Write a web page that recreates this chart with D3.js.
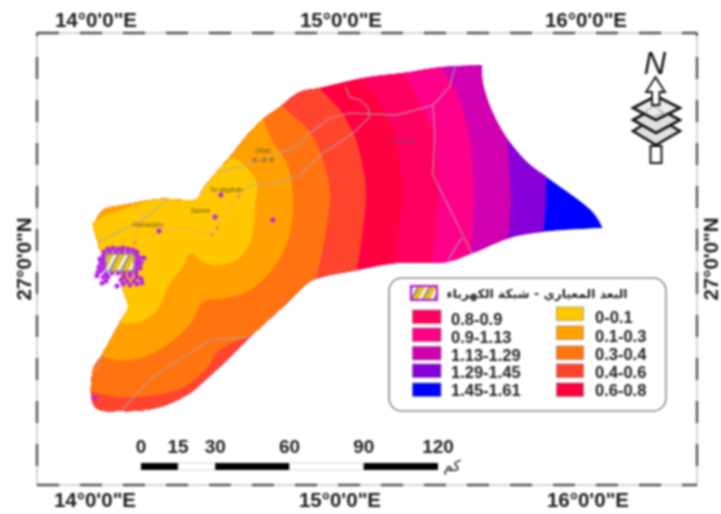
<!DOCTYPE html>
<html><head><meta charset="utf-8">
<script src="https://cdn.jsdelivr.net/npm/d3@7"></script>
<style>
html,body{margin:0;padding:0;background:#fff}
svg{display:block;filter:blur(0.8px)}
text{font-family:"Liberation Sans",Arial,sans-serif}
</style></head><body>
<svg id="map" width="721" height="514"></svg>
<script>
// ---------- data (lon, lat in decimal degrees) ----------
const outlineNorth=[[14.000,27.094],[14.033,27.143],[14.114,27.163],[14.265,27.188],[14.416,27.188],[14.437,27.224],[14.510,27.314],[14.563,27.375],[14.604,27.428],[14.681,27.510],[14.755,27.563],[14.836,27.624],[14.918,27.641],[15.093,27.681],[15.257,27.702],[15.408,27.726],[15.579,27.734]];
const outlineEast=[[15.579,27.734],[15.583,27.661],[15.624,27.539],[15.681,27.437],[15.763,27.339],[15.844,27.278],[16.032,27.135],[16.073,27.069]];
const outlineSouth=[[16.073,27.069],[15.828,27.053],[15.693,27.029],[15.542,26.967],[15.436,26.931],[15.232,26.927],[15.069,26.898],[14.889,26.857],[14.836,26.816],[14.783,26.763],[14.632,26.624],[14.539,26.531],[14.441,26.441],[14.388,26.396],[14.265,26.339],[14.114,26.322],[14.000,26.339],[13.992,26.490],[14.033,26.559],[14.102,26.686],[14.135,26.747],[14.114,26.816],[14.094,26.898],[14.020,26.980],[14.012,27.008],[13.992,27.090],[14.000,27.094]];

const classLabels=["0-0.1","0.1-0.3","0.3-0.4","0.4-0.6","0.6-0.8","0.8-0.9","0.9-1.13","1.13-1.29","1.29-1.45","1.45-1.61"];
const classColors=["#ffc800","#ffa000","#ff7410","#ff452d","#ff0040","#ff0060","#ff0088","#d000b0","#8800d8","#0000ff"];

// upper limit contour of each class (class index i = contours[i])
const contour0=[[14.490,27.347],[14.518,27.326],[14.563,27.355],[14.620,27.314],[14.661,27.253],[14.653,27.155],[14.641,27.033],[14.592,26.951],[14.510,26.918],[14.441,26.931],[14.388,26.967],[14.359,26.910],[14.306,26.845],[14.253,26.735],[14.184,26.686],[14.114,26.682],[14.020,26.694]];
const contour1=[[14.681,27.530],[14.722,27.428],[14.783,27.335],[14.808,27.196],[14.796,27.049],[14.743,26.927],[14.632,26.816],[14.539,26.784],[14.441,26.767],[14.400,26.694],[14.306,26.600],[14.184,26.539],[14.090,26.531],[13.959,26.572]];
const contour2=[[14.734,27.612],[14.775,27.559],[14.877,27.461],[14.930,27.347],[14.959,27.212],[14.938,27.033],[14.898,26.857],[14.836,26.735],[14.714,26.645],[14.624,26.625],[14.510,26.572],[14.441,26.478],[14.335,26.408],[14.212,26.384],[14.090,26.380],[13.959,26.408]];
const contour3=[[14.885,27.836],[14.894,27.694],[14.918,27.641],[15.000,27.551],[15.061,27.441],[15.093,27.318],[15.106,27.212],[15.093,27.061],[15.069,26.898],[15.049,26.816],[15.049,26.245]];
const contour4=[[15.061,27.836],[15.073,27.734],[15.093,27.677],[15.163,27.579],[15.216,27.469],[15.244,27.335],[15.253,27.212],[15.240,27.061],[15.224,26.918],[15.212,26.837],[15.212,26.245]];
const contour5=[[15.224,27.836],[15.236,27.755],[15.257,27.702],[15.326,27.583],[15.375,27.457],[15.395,27.335],[15.399,27.212],[15.395,27.073],[15.371,26.931],[15.359,26.857],[15.359,26.245]];
const contour6=[[15.375,27.836],[15.391,27.763],[15.412,27.726],[15.477,27.620],[15.522,27.469],[15.542,27.318],[15.546,27.184],[15.534,26.980],[15.522,26.898],[15.522,26.245]];
const contour7=[[15.673,27.836],[15.669,27.510],[15.681,27.437],[15.693,27.278],[15.697,27.155],[15.685,27.029],[15.673,26.939],[15.673,26.245]];
const contour8=[[15.856,27.836],[15.856,27.347],[15.844,27.278],[15.840,27.171],[15.832,27.053],[15.832,26.245]];
const contours=[contour0,contour1,contour2,contour3,contour4,contour5,contour6,contour7,contour8];
const westTip=[[13.959,27.053],[14.020,27.110],[14.082,27.135],[14.163,27.163],[14.224,27.192],[14.224,27.265],[13.959,27.265]];

const roads=[
 [[14.510,27.298],[14.645,27.335],[14.755,27.375],[14.836,27.408],[14.877,27.457],[14.959,27.518],[15.040,27.539],[15.232,27.530],[15.379,27.571],[15.448,27.645],[15.469,27.726]],
 [[14.604,27.224],[14.645,27.245],[14.755,27.257],[14.836,27.286],[14.930,27.375],[15.053,27.457],[15.122,27.522],[15.114,27.563],[15.081,27.592],[15.040,27.604],[15.020,27.649]],
 [[15.379,27.571],[15.387,27.457],[15.379,27.286],[15.538,26.967]],
 [[15.497,27.029],[15.440,26.939]],
 [[14.012,27.012],[14.196,27.102],[14.298,27.184]],
 [[14.110,26.327],[14.233,26.461],[14.469,26.612],[14.624,26.625]],
 [[14.033,26.559],[14.004,26.482]]
];
const tracks=[
 [[14.604,27.224],[14.580,27.196],[14.522,27.114],[14.481,27.041],[14.375,27.069],[14.265,27.061],[14.204,26.992]],
 [[14.151,27.167],[14.196,27.131],[14.163,27.020]]
];
const networkSites=[[14.053,26.984],[14.073,26.988],[14.094,26.984],[14.114,26.988],[14.135,26.984],[14.155,26.980],[14.171,26.971],[14.037,26.971],[14.061,26.971],[14.086,26.971],[14.110,26.971],[14.135,26.971],[14.159,26.971],[14.033,26.955],[14.020,26.943],[14.033,26.939],[14.024,26.927],[14.037,26.922],[14.016,26.910],[14.033,26.906],[14.024,26.894],[14.012,26.890],[14.171,26.955],[14.184,26.947],[14.200,26.947],[14.171,26.935],[14.188,26.927],[14.171,26.918],[14.184,26.906],[14.167,26.898],[14.045,26.882],[14.069,26.886],[14.094,26.886],[14.118,26.886],[14.143,26.886],[14.167,26.886],[14.033,26.869],[14.008,26.874],[14.053,26.869],[14.118,26.869],[14.143,26.874],[14.171,26.869],[14.106,26.857],[14.131,26.853],[14.159,26.853],[14.188,26.861],[14.045,26.853],[14.029,26.845],[14.114,26.841],[14.143,26.837],[14.171,26.841],[14.192,26.845],[14.090,26.833],[14.514,27.204],[14.490,27.114],[14.726,27.102],[14.261,27.057],[14.000,26.376]];
const minorSites=[[14.273,27.082],[14.588,27.200],[14.498,27.069],[14.477,27.041],[14.163,27.012]];
const sampledArea=[[14.045,26.963],[14.159,26.894]];

const towns=["Ubari","al -at at","Tw alqahah","Samra","Hamadah","SABHA"];
const townPlaces=[[14.686,27.377],[14.686,27.340],[14.535,27.216],[14.430,27.130],[14.212,27.072],[15.253,27.416]];

const lonTicks=[14,15,16];
const latTicks=[27];
const lonLabels=['14°0\'0"E','15°0\'0"E','16°0\'0"E'];
const latLabels=['27°0\'0"N'];
const scaleKm=[0,15,30,60,90,120];
const legendTitle="البعد المعياري - شبكة الكهرباء";

// ---------- scales ----------
const svg=d3.select("#map");
const x=d3.scaleLinear().domain([14,16]).range([95,585]);
const y=d3.scaleLinear().domain([27,28]).range([245,0]);
const km=d3.scaleLinear().domain([0,120]).range([141,438]);
const P=d=>[x(d[0]),y(d[1])];
const smooth=d3.line().x(d=>x(d[0])).y(d=>y(d[1])).curve(d3.curveCatmullRom.alpha(0.5));
const straight=d3.line().x(d=>x(d[0])).y(d=>y(d[1]));
// the outline keeps its sharp corners where the three arcs meet
const outlinePath=smooth(outlineNorth)+smooth(outlineEast).replace(/^M/,"L")+smooth(outlineSouth).replace(/^M/,"L")+"Z";

// ---------- defs ----------
const defs=svg.append("defs");
defs.append("clipPath").attr("id","region").append("path").attr("d",outlinePath);
const pat=defs.append("pattern").attr("id","hatch").attr("patternUnits","userSpaceOnUse").attr("width",10).attr("height",10).attr("patternTransform","rotate(28)");
pat.append("rect").attr("width",10).attr("height",10).attr("fill","#e6c21a");
pat.append("rect").attr("x",0).attr("width",3).attr("height",10).attr("fill","#f4f4f0");
pat.append("rect").attr("x",3).attr("width",2).attr("height",10).attr("fill","#8a8a80");

// ---------- frame ----------
const fL=37,fT=33,fR=697,fB=485;
svg.append("rect").attr("x",fL).attr("y",fT).attr("width",fR-fL).attr("height",fB-fT).attr("fill","none").attr("stroke","#d4d4d4").attr("stroke-width",2);
[[fL,fT,fR,fT,0],[fL,fB,fR,fB,0],[fL,fT,fL,fB,19],[fR,fT,fR,fB,19]].forEach(l=>{
 svg.append("line").attr("x1",l[0]).attr("y1",l[1]).attr("x2",l[2]).attr("y2",l[3]).attr("stroke","#555").attr("stroke-width",2.4).attr("stroke-dasharray","22 21").attr("stroke-dashoffset",l[4]);
});

// ---------- zones ----------
const zones=svg.append("g").attr("clip-path","url(#region)");
zones.append("path").attr("d",outlinePath).attr("fill",classColors[9]);
const west=13.8;
for(let i=contours.length-1;i>=0;i--){
 const c=contours[i];
 const tail="L"+P([west,c[c.length-1][1]]).join(",")+"L"+P([west,c[0][1]]).join(",")+"Z";
 zones.append("path").attr("d",smooth(c)+tail).attr("fill",classColors[i]);
}
zones.append("path").attr("d",smooth(westTip)+"Z").attr("fill",classColors[1]);

// ---------- roads ----------
const rg=svg.append("g").attr("fill","none").attr("stroke-linejoin","round");
rg.selectAll(".road").data(roads).join("path").attr("d",straight).attr("stroke","#b3a4ac").attr("stroke-width",1.1).attr("opacity",0.9);
rg.selectAll(".track").data(tracks).join("path").attr("d",straight).attr("stroke","#ffa26a").attr("stroke-width",0.9);

// ---------- towns ----------
svg.append("g").selectAll("text").data(towns).join("text")
 .attr("x",(d,i)=>x(townPlaces[i][0])).attr("y",(d,i)=>y(townPlaces[i][1]))
 .attr("text-anchor","middle").attr("font-size",(d,i)=>i==5?7:6.5).attr("letter-spacing",(d,i)=>i==5?1:0)
 .attr("fill",(d,i)=>i==5?"#8a3a78":"#6a5a20").text(d=>d);

// ---------- sites ----------
svg.append("g").selectAll("circle.site").data(networkSites).join("circle")
 .attr("cx",d=>x(d[0])).attr("cy",d=>y(d[1])).attr("r",2.5).attr("fill","#b428e6");
svg.append("g").selectAll("circle.minor").data(minorSites).join("circle")
 .attr("cx",d=>x(d[0])).attr("cy",d=>y(d[1])).attr("r",1.6).attr("fill","#f070a0");
svg.append("rect").attr("x",x(sampledArea[0][0])).attr("y",y(sampledArea[0][1]))
 .attr("width",x(sampledArea[1][0])-x(sampledArea[0][0])).attr("height",y(sampledArea[1][1])-y(sampledArea[0][1]))
 .attr("fill","url(#hatch)").attr("stroke","#8c7f90").attr("stroke-width",1.2);

// ---------- graticule labels ----------
const tick=svg.append("g").attr("font-size",20.5).attr("font-weight",700).attr("fill","#1c1c1c").attr("text-anchor","middle");
lonTicks.forEach((t,i)=>{
 tick.append("text").attr("x",x(t)+1).attr("y",27).text(lonLabels[i]);
 tick.append("text").attr("x",x(t)+(i==2?3:0)).attr("y",507).text(lonLabels[i]);
});
latTicks.forEach((t,i)=>{
 [31,718].forEach(px=>{
  tick.append("text").attr("transform",`translate(${px},${y(t)+14}) rotate(-90)`).text(latLabels[i]);
 });
});

// ---------- scale bar ----------
const bar=svg.append("g");
d3.pairs(scaleKm).forEach((p,i)=>{
 bar.append("rect").attr("x",km(p[0])).attr("y",463).attr("width",km(p[1])-km(p[0])).attr("height",7)
  .attr("fill",i%2==0?"#000":"#fff").attr("stroke",i%2==0?"none":"#ccc").attr("stroke-width",0.8);
});
bar.selectAll("text").data(scaleKm).join("text").attr("x",d=>km(d)).attr("y",453)
 .attr("text-anchor","middle").attr("font-size",19).attr("font-weight",700).attr("fill","#222").text(d=>d);
svg.append("text").attr("x",452).attr("y",471).attr("text-anchor","middle")
 .style("font-family","'DejaVu Sans'").attr("font-size",15).attr("fill","#111").text("كم");

// ---------- north arrow ----------
const na=svg.append("g").attr("stroke","#111").attr("stroke-linejoin","miter");
na.append("text").attr("x",655).attr("y",74).attr("text-anchor","middle").attr("font-size",31).attr("font-style","italic").attr("stroke","none").attr("fill","#111").text("N");
na.append("rect").attr("x",650.5).attr("y",146).attr("width",11).attr("height",17).attr("fill","#fff").attr("stroke-width",2);
[[131,14],[120,13],[108,12]].forEach((l,i)=>{
 const cy=l[0],h=l[1];
 na.append("path").attr("d",`M633,${cy}L656,${cy-h}L680,${cy}L656,${cy+h}Z`)
  .attr("fill",i==2?"#ececec":"#e0e0e0").attr("stroke-width",2.6);
});
na.append("path").attr("d","M645,112L654,106L664,113L655,116").attr("fill","none").attr("stroke","#888").attr("stroke-width",1);
na.append("path").attr("d","M655.5,77L665,92L659.5,92L659.5,105L652,105L652,92L646,92Z").attr("fill","#fff").attr("stroke-width",1.8);

// ---------- legend ----------
const lg=svg.append("g");
lg.append("rect").attr("x",389).attr("y",278).attr("width",277).attr("height",133).attr("rx",13)
 .attr("fill","#fff").attr("stroke","#8a8a8a").attr("stroke-width",1.6);
lg.append("rect").attr("x",411).attr("y",286).attr("width",26).attr("height",14).attr("fill","url(#hatch)").attr("stroke","#b81ee0").attr("stroke-width",2.2);
lg.append("text").attr("x",537).attr("y",298).attr("text-anchor","middle").style("font-family","'DejaVu Sans'").attr("font-size",12.3).attr("font-weight",700).attr("fill","#222").text(legendTitle);
const colL=[5,6,7,8,9],colR=[0,1,2,3,4];
const rowY=[310,328,346.5,364,383], rowYR=[307,326,346,364,383];
const baseL=[325,343,360.5,378,396], baseR=[323,342,360,378,396];
colL.forEach((c,i)=>{
 lg.append("rect").attr("x",412.5).attr("y",rowY[i]).attr("width",28.5).attr("height",13.5).attr("fill",classColors[c]).attr("stroke","#777").attr("stroke-width",0.6);
 lg.append("text").attr("x",451).attr("y",baseL[i]).attr("font-size",16.5).attr("font-weight",700).attr("fill","#222").text(classLabels[c]);
});
colR.forEach((c,i)=>{
 lg.append("rect").attr("x",556.5).attr("y",rowYR[i]).attr("width",27).attr("height",13.5).attr("fill",classColors[c]).attr("stroke","#777").attr("stroke-width",0.6);
 lg.append("text").attr("x",595).attr("y",baseR[i]).attr("font-size",16.5).attr("font-weight",700).attr("fill","#222").text(classLabels[c]);
});
</script>
</body></html>
